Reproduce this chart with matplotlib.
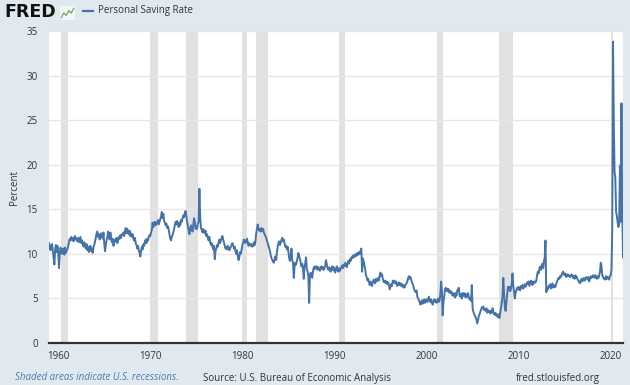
import numpy as np
import matplotlib
matplotlib.use("Agg")
from matplotlib import pyplot as plt

# ---------------------- data (monthly, percent) ----------------------
start_year = 1959

rate_1959_1968 = [
    11.2, 10.7, 10.4, 11.0, 11.1, 10.4, 9.6, 8.8, 10.5, 11.0, 10.2, 10.9,   # 1959
    10.3, 8.4, 9.8, 10.7, 10.2, 10.0, 10.6, 10.3, 9.9, 10.7, 10.1, 10.4,    # 1960
    10.5, 10.9, 11.3, 11.7, 11.5, 11.9, 11.6, 11.8, 11.4, 11.8, 12.0, 11.6, # 1961
    11.7, 11.4, 11.8, 11.3, 11.6, 11.9, 11.2, 11.5, 11.1, 10.8, 11.3, 11.0, # 1962
    10.6, 11.1, 10.4, 10.8, 10.2, 10.7, 10.9, 10.3, 10.6, 10.1, 10.8, 11.0, # 1963
    11.4, 11.8, 12.3, 12.5, 11.9, 12.2, 11.6, 11.9, 12.3, 12.1, 11.7, 12.4, # 1964
    11.2, 10.3, 11.0, 11.5, 11.9, 12.5, 12.2, 11.6, 12.4, 11.8, 11.3, 11.7, # 1965
    10.9, 11.3, 11.6, 11.4, 11.8, 11.2, 11.5, 11.9, 11.7, 12.1, 11.8, 12.2, # 1966
    12.1, 12.4, 12.0, 12.6, 12.9, 12.3, 12.8, 12.5, 12.2, 12.6, 12.0, 12.3, # 1967
    11.9, 12.2, 11.7, 11.5, 11.8, 11.2, 11.0, 10.6, 10.9, 10.4, 10.1, 9.7,  # 1968
]
rate_1969_1978 = [
    10.3, 10.8, 10.5, 11.1, 10.9, 11.4, 11.6, 11.2, 11.7, 11.5, 11.9, 12.1, # 1969
    12.0, 12.4, 12.7, 13.5, 13.0, 13.3, 13.6, 13.2, 13.5, 13.4, 13.8, 13.3, # 1970
    13.6, 13.9, 14.2, 14.7, 14.0, 14.5, 13.7, 13.5, 13.2, 13.4, 12.9, 13.1, # 1971
    12.7, 12.2, 11.7, 11.5, 11.9, 12.1, 12.4, 12.8, 13.2, 13.6, 13.3, 13.7, # 1972
    13.4, 13.0, 13.5, 13.2, 13.8, 13.6, 14.0, 14.3, 14.1, 14.6, 14.8, 14.2, # 1973
    13.6, 13.1, 12.6, 12.2, 12.8, 13.2, 12.9, 12.5, 13.3, 14.0, 13.6, 12.8, # 1974
    13.1, 12.8, 13.4, 13.6, 17.3, 14.2, 12.9, 12.7, 12.4, 12.8, 12.5, 12.3, # 1975
    12.6, 12.0, 12.2, 11.8, 11.5, 11.9, 11.3, 11.0, 11.2, 10.8, 10.5, 10.9, # 1976
    9.4, 10.3, 10.6, 11.0, 10.8, 11.3, 11.6, 11.2, 11.5, 11.8, 12.0, 11.6,  # 1977
    11.3, 10.9, 10.6, 10.8, 10.5, 10.9, 10.7, 10.4, 10.6, 10.8, 11.0, 11.2, # 1978
]
rate_1979_1988 = [
    11.0, 10.6, 10.8, 10.3, 10.0, 10.4, 9.8, 9.3, 9.6, 10.2, 10.0, 10.5,    # 1979
    11.0, 11.3, 11.6, 11.4, 11.2, 11.5, 11.7, 11.3, 10.9, 11.2, 11.0, 10.9, # 1980
    11.1, 10.8, 10.9, 11.3, 11.0, 11.4, 12.3, 12.8, 13.3, 12.9, 12.6, 12.8, # 1981
    12.5, 12.9, 12.6, 12.8, 12.4, 12.2, 12.0, 11.8, 11.5, 11.2, 10.9, 10.6, # 1982
    10.3, 9.8, 9.5, 9.3, 9.1, 9.0, 9.4, 9.7, 9.3, 10.2, 10.8, 11.2,         # 1983
    11.4, 11.0, 11.3, 11.6, 11.8, 11.4, 11.6, 11.2, 10.8, 10.9, 10.5, 10.8, # 1984
    10.2, 9.5, 9.2, 9.7, 10.6, 9.3, 9.0, 7.3, 8.6, 9.0, 8.8, 9.2,           # 1985
    9.6, 10.1, 9.8, 9.4, 9.0, 8.6, 8.9, 8.3, 7.2, 8.5, 9.0, 9.6,            # 1986
    8.3, 8.0, 7.5, 4.5, 7.6, 7.9, 7.6, 7.3, 8.0, 8.5, 8.3, 8.6,             # 1987
    8.4, 8.6, 8.2, 8.5, 8.3, 8.1, 8.4, 8.6, 8.3, 8.5, 8.2, 8.4,             # 1988
]
rate_1989_1998 = [
    8.7, 9.3, 8.8, 8.4, 8.2, 8.5, 8.3, 8.0, 8.4, 8.6, 8.2, 8.5,             # 1989
    8.1, 7.9, 8.3, 8.6, 8.2, 8.0, 8.4, 8.1, 8.3, 8.5, 8.7, 8.4,             # 1990
    8.8, 8.6, 9.0, 8.8, 8.5, 8.9, 9.2, 8.9, 9.4, 9.2, 9.6, 9.5,             # 1991
    9.8, 9.6, 9.9, 9.7, 10.0, 9.8, 10.1, 9.9, 10.2, 10.0, 10.3, 10.6,       # 1992
    8.0, 9.5, 9.2, 8.7, 8.3, 7.6, 7.4, 7.0, 7.2, 6.8, 6.5, 6.9,             # 1993
    6.6, 6.4, 6.8, 7.1, 7.0, 6.7, 7.2, 6.9, 7.1, 7.3, 7.0, 7.6,             # 1994
    7.9, 7.5, 7.7, 7.2, 6.9, 6.8, 7.0, 6.7, 6.9, 6.6, 6.8, 6.5,             # 1995
    6.0, 6.3, 6.6, 6.4, 7.0, 6.8, 7.0, 6.7, 6.9, 6.6, 6.4, 6.7,             # 1996
    6.8, 6.5, 6.7, 6.4, 6.6, 6.3, 6.5, 6.2, 6.4, 6.6, 6.7, 6.9,             # 1997
    7.3, 7.5, 7.2, 7.4, 7.1, 6.8, 6.6, 6.3, 6.0, 5.8, 5.7, 5.9,             # 1998
]
rate_1999_2008 = [
    5.2, 5.0, 4.8, 4.6, 4.3, 4.5, 4.8, 4.4, 4.6, 4.9, 4.5, 4.7,             # 1999
    4.9, 4.6, 4.8, 5.2, 4.8, 4.6, 4.9, 4.5, 4.3, 4.7, 4.9, 4.6,             # 2000
    4.8, 4.5, 4.7, 5.0, 4.6, 4.8, 5.5, 6.9, 5.8, 3.1, 4.6, 5.2,             # 2001
    6.0, 6.2, 5.9, 5.8, 6.1, 5.7, 5.9, 5.6, 5.8, 5.5, 5.3, 5.6,             # 2002
    5.4, 5.1, 5.6, 5.3, 5.9, 6.0, 6.2, 5.4, 5.2, 5.5, 5.0, 5.6,             # 2003
    5.3, 5.6, 5.2, 5.5, 5.1, 5.4, 5.6, 5.2, 4.9, 5.0, 4.7, 6.5,             # 2004
    3.9, 3.5, 3.3, 3.0, 2.9, 2.6, 2.2, 2.5, 3.0, 3.2, 3.5, 3.7,             # 2005
    4.0, 3.9, 4.1, 3.7, 3.8, 3.6, 3.9, 3.4, 3.7, 3.5, 3.6, 3.3,             # 2006
    3.6, 3.4, 3.9, 3.5, 3.2, 3.4, 3.1, 3.3, 3.0, 2.9, 3.2, 2.8,             # 2007
    3.4, 3.9, 4.6, 5.2, 7.3, 5.5, 4.1, 3.6, 4.5, 5.4, 6.3, 6.0,             # 2008
]
rate_2009_2021 = [
    6.3, 5.8, 6.1, 6.6, 7.8, 6.4, 5.8, 5.0, 5.6, 5.9, 6.2, 6.0,             # 2009
    6.3, 6.0, 5.9, 6.4, 6.2, 6.5, 6.1, 6.4, 6.6, 6.3, 6.5, 6.8,             # 2010
    6.6, 6.9, 6.4, 6.7, 7.0, 6.8, 6.5, 6.9, 6.7, 6.9, 6.8, 7.0,             # 2011
    7.6, 8.0, 7.8, 8.3, 8.6, 8.2, 8.5, 8.9, 8.4, 9.2, 9.6, 11.5,            # 2012
    5.7, 6.2, 6.0, 6.4, 6.3, 6.6, 6.1, 6.4, 6.7, 6.2, 6.5, 6.3,             # 2013
    6.3, 6.6, 6.9, 7.1, 7.3, 7.2, 7.5, 7.4, 7.6, 7.9, 8.0, 7.7,             # 2014
    7.6, 7.8, 7.4, 7.5, 7.7, 7.5, 7.6, 7.4, 7.5, 7.7, 7.6, 7.3,             # 2015
    7.5, 7.2, 7.6, 7.3, 7.4, 7.1, 7.0, 6.8, 6.7, 7.0, 7.2, 6.9,             # 2016
    7.1, 7.3, 7.0, 7.2, 7.4, 7.3, 7.1, 7.4, 6.9, 7.2, 7.5, 7.3,             # 2017
    7.4, 7.6, 7.5, 7.3, 7.6, 7.4, 7.2, 7.5, 7.3, 7.6, 8.0, 9.0,             # 2018
    8.6, 7.6, 7.4, 7.2, 7.3, 7.1, 7.5, 7.2, 7.4, 7.3, 7.1, 7.5,             # 2019
    7.6, 8.3, 12.8, 33.8, 24.9, 19.2, 18.5, 14.7, 14.3, 13.5, 13.0, 13.4,   # 2020
    19.9, 13.6, 26.9, 15.0, 9.6,                                            # 2021
]

# NBER recessions (year, month) peak -> trough
recession_starts = [(1960, 4), (1969, 12), (1973, 11), (1980, 1), (1981, 7),
                    (1990, 7), (2001, 3), (2007, 12), (2020, 2)]
recession_ends = [(1961, 2), (1970, 11), (1975, 3), (1980, 7), (1982, 11),
                  (1991, 3), (2001, 11), (2009, 6), (2020, 4)]

y_ticks = [0, 5, 10, 15, 20, 25, 30, 35]
x_ticks = [1960, 1970, 1980, 1990, 2000, 2010, 2020]

# little FRED logo chart
logo_x = [0, 1, 2, 3, 4, 5]
logo_y = [1, 3, 2, 4, 3, 5]

# ---------------------- plotting ----------------------
saving = np.array(rate_1959_1968 + rate_1969_1978 + rate_1979_1988
                  + rate_1989_1998 + rate_1999_2008 + rate_2009_2021)
t = start_year + np.arange(len(saving)) / 12.0

bg = "#e1e9f0"
line_blue = "#4572a7"
txt = "#333333"
plt.rcParams["font.family"] = ["Open Sans", "DejaVu Sans"]

fig = plt.figure(figsize=(6.3, 3.85), dpi=100, facecolor=bg)
W, H = 630.0, 385.0
ax = fig.add_axes([49 / W, 1 - 343 / H, (623 - 49) / W, (343 - 31) / H])
ax.set_facecolor("white")

for (sy, sm), (ey, em) in zip(recession_starts, recession_ends):
    ax.axvspan(sy + (sm - 1) / 12.0, ey + (em - 1) / 12.0,
               color="#e1e1e1", lw=0, zorder=1)

ax.plot(t, saving, color=line_blue, lw=1.4, zorder=3)

ax.set_xlim(t[0], t[-1])
ax.set_ylim(0, 35)
ax.set_yticks(y_ticks)
ax.set_xticks(x_ticks)
ax.yaxis.grid(True, color="#e6e6e6", lw=1, zorder=0)
ax.tick_params(axis="y", length=0, pad=8, labelsize=7, labelcolor=txt)
ax.tick_params(axis="x", length=0, pad=6, labelsize=7, labelcolor=txt)
for side in ["top", "right", "left"]:
    ax.spines[side].set_visible(False)
ax.spines["bottom"].set_color("#333333")
ax.spines["bottom"].set_linewidth(1.6)
ax.spines["bottom"].set_zorder(4)

fig.text(14 / W, 1 - 187 / H, "Percent", fontsize=7, color=txt,
         rotation=90, va="center", ha="center")

# header
fig.text(4 / W, 1 - 12 / H, "FRED", fontsize=12.5, fontweight="heavy",
         color="#111111", va="center", ha="left", family="DejaVu Sans")
lax = fig.add_axes([60 / W, 1 - 20 / H, 15 / W, 14 / H])
lax.set_facecolor("#f4f7fa")
lax.plot(logo_x, logo_y, color="#6aa84f", lw=0.9)
lax.set_xlim(-0.5, 5.5)
lax.set_ylim(0, 6)
lax.set_xticks([])
lax.set_yticks([])
for s in lax.spines.values():
    s.set_visible(False)
fig.lines.append(plt.Line2D([83 / W, 93 / W], [1 - 11 / H, 1 - 11 / H],
                            color=line_blue, lw=1.6, transform=fig.transFigure))
fig.text(98 / W, 1 - 11 / H, "Personal Saving Rate", fontsize=7,
         color=txt, va="center", ha="left")

# footer
fig.text(15 / W, 1 - 378 / H, "Shaded areas indicate U.S. recessions.",
         fontsize=7, style="italic", color="#4a7ab3", va="center", ha="left")
fig.text(203 / W, 1 - 378 / H, "Source: U.S. Bureau of Economic Analysis",
         fontsize=7, color=txt, va="center", ha="left")
fig.text(600 / W, 1 - 378 / H, "fred.stlouisfed.org",
         fontsize=7, color=txt, va="center", ha="right")

fig.savefig("out.png", dpi=100, facecolor=bg)
